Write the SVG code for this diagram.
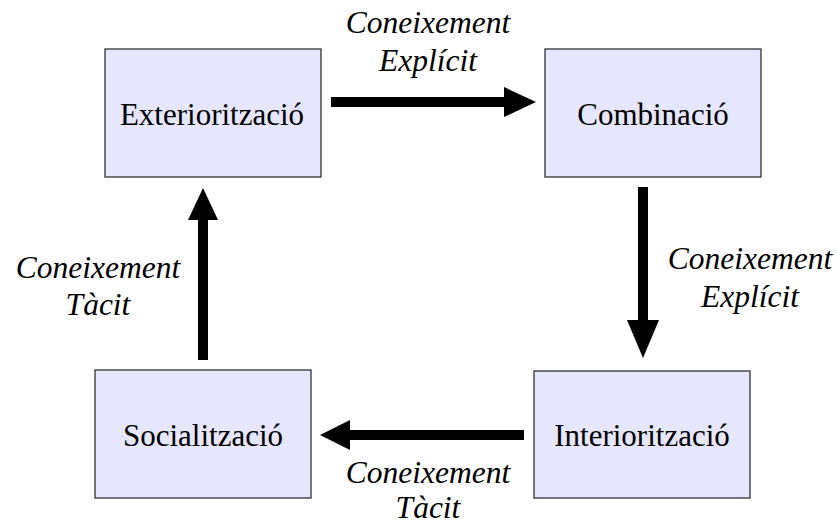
<svg xmlns="http://www.w3.org/2000/svg" width="836" height="524" viewBox="0 0 836 524">
  <style>
    .box { fill: #e6e6ff; stroke: #333333; stroke-width: 1.3; }
    .name { font-family: "Liberation Serif", Tinos, "Times New Roman", "Noto Serif", "DejaVu Serif", serif; font-size: 31px; fill: #000; text-anchor: middle; }
    .lbl { font-family: "Liberation Serif", Tinos, "Times New Roman", "Noto Serif", "DejaVu Serif", serif; font-style: italic; font-size: 31.5px; fill: #000; text-anchor: middle; }
    .shaft { stroke: #000; stroke-width: 10; fill: none; }
    .head { fill: #000; }
  </style>
  <rect width="836" height="524" fill="#ffffff"/>

  <g id="exterioritzacio">
    <rect class="box" x="105" y="49" width="216" height="128"/>
    <text class="name" x="212" y="125">Exteriorització</text>
  </g>
  <g id="combinacio">
    <rect class="box" x="545" y="49" width="216" height="128"/>
    <text class="name" x="653" y="125">Combinació</text>
  </g>
  <g id="interioritzacio">
    <rect class="box" x="534" y="371" width="216" height="127"/>
    <text class="name" x="642" y="446">Interiorització</text>
  </g>
  <g id="socialitzacio">
    <rect class="box" x="95" y="370" width="216" height="128"/>
    <text class="name" x="203" y="446">Socialització</text>
  </g>

  <g id="connectors">
    <!-- Exteriorització to Combinació -->
    <line class="shaft" x1="331" y1="102" x2="508" y2="102"/>
    <polygon class="head" points="504,87 536,102 504,117"/>
    <!-- Combinació to Interiorització -->
    <line class="shaft" x1="643" y1="187" x2="643" y2="324"/>
    <polygon class="head" points="627,320 659,320 643,358"/>
    <!-- Interiorització to Socialització -->
    <line class="shaft" x1="524" y1="435" x2="346" y2="435"/>
    <polygon class="head" points="350,420 350,450 320,435"/>
    <!-- Socialització to Exteriorització -->
    <line class="shaft" x1="203" y1="360" x2="203" y2="216"/>
    <polygon class="head" points="188,220 218,220 203,188"/>
  </g>

  <g id="labels">
    <text class="lbl" x="428" y="33">Coneixement</text>
    <text class="lbl" x="428" y="71">Explícit</text>
    <text class="lbl" x="750" y="269">Coneixement</text>
    <text class="lbl" x="750" y="307">Explícit</text>
    <text class="lbl" x="98" y="278">Coneixement</text>
    <text class="lbl" x="98" y="315">Tàcit</text>
    <text class="lbl" x="428" y="483">Coneixement</text>
    <text class="lbl" x="428" y="518">Tàcit</text>
  </g>
</svg>
